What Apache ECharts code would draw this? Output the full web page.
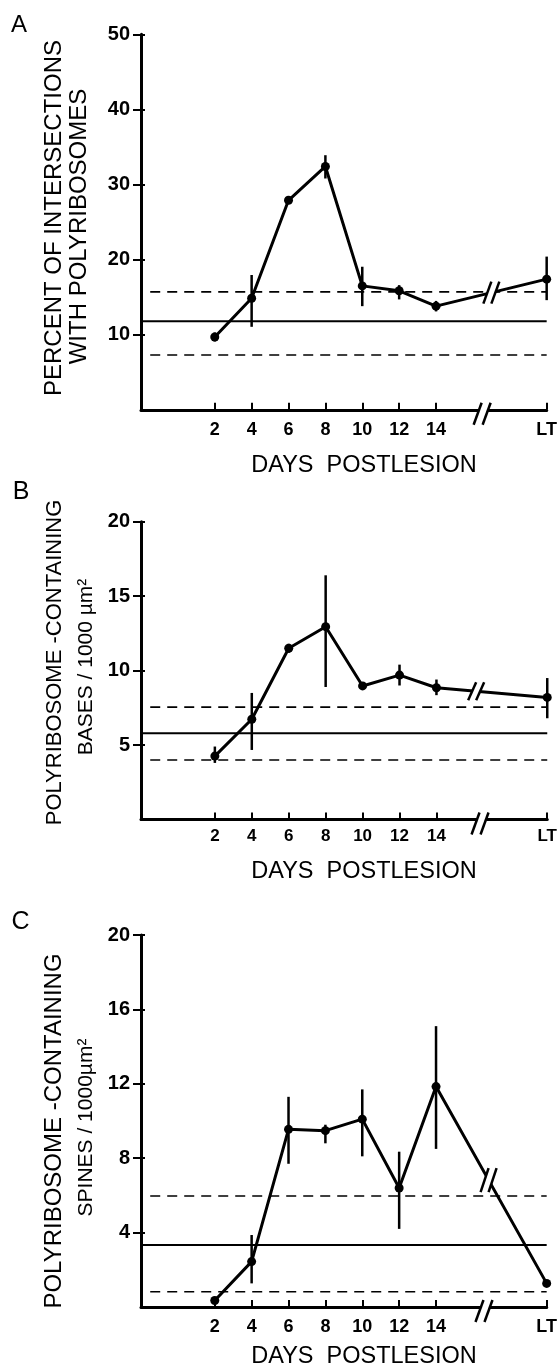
<!DOCTYPE html>
<html><head><meta charset="utf-8">
<script src="https://cdn.jsdelivr.net/npm/echarts@6/dist/echarts.min.js"></script>
<style>html,body{margin:0;padding:0;background:#fff}#c{width:560px;height:1372px}</style>
</head><body><div id="c"></div>
<script>
// ---- data ----
const days = [2, 4, 6, 8, 10, 12, 14, 20];          // 20 = long-term (LT) position
const dayLabels = ['2', '4', '6', '8', '10', '12', '14', 'LT'];

const aMean = [9.7, 14.85, 27.9, 32.4, 16.5, 15.85, 13.8, 17.4];
const aHigh = [10.3, 17.95, 28.4, 33.9, 19.05, 16.6, 14.5, 20.4];
const aLow  = [9.1, 11.05, 27.4, 30.8, 13.8, 14.7, 13.1, 14.6];
const aRef  = [11.8, 15.7, 7.3];          // control mean, upper, lower
const aYTicks = [10, 20, 30, 40, 50];

const bMean = [4.26, 6.73, 11.5, 12.95, 8.97, 9.7, 8.85, 8.2];
const bHigh = [4.9, 8.5, 11.8, 16.4, 9.15, 10.4, 9.4, 9.5];
const bLow  = [3.8, 4.67, 11.2, 8.9, 8.8, 9.0, 8.35, 6.8];
const bRef  = [5.8, 7.55, 4.0];
const bYTicks = [5, 10, 15, 20];

const cMean = [0.35, 2.44, 9.55, 9.48, 10.1, 6.4, 11.85, 1.27];
const cHigh = [0.5, 3.87, 11.3, 9.8, 11.7, 8.35, 15.1, 1.4];
const cLow  = [0.2, 1.27, 7.7, 8.8, 8.1, 4.2, 8.5, 1.1];
const cRef  = [3.33, 5.97, 0.82];
const cYTicks = [4, 8, 12, 16, 20];

const lineBreakDay = [17.0, 16.15, 16.85];
const axisBreakDay = [16.5, 16.36, 16.6];

// ---- layout / style ----
const FONT = "'Liberation Sans', Arial, Helvetica, sans-serif";
const X_MIN = -2, X_MAX = 20, DASH_START = -1.5;
const panels = [
  {mean: aMean, hi: aHigh, lo: aLow, ref: aRef, ticks: aYTicks, max: 50, top: 34.3, height: 375.5, xMargin: 11, xFont: 18, brH: 11},
  {mean: bMean, hi: bHigh, lo: bLow, ref: bRef, ticks: bYTicks, max: 20, top: 521.7, height: 297.8, xMargin: 8, xFont: 17, brH: 9},
  {mean: cMean, hi: cHigh, lo: cLow, ref: cRef, ticks: cYTicks, max: 20, top: 935, height: 372, xMargin: 11, xFont: 18, brH: 12}
];

function errRender(params, api) {
  const x = api.value(0);
  const lo = api.coord([x, api.value(1)]);
  const hi = api.coord([x, api.value(2)]);
  return {type: 'line', shape: {x1: lo[0], y1: lo[1], x2: hi[0], y2: hi[1]},
          style: {stroke: '#000', lineWidth: 2.5}};
}
function breakRender(h, dx, sep, yOff) {
  return function (params, api) {
    const p = api.coord([api.value(0), api.value(1)]);
    const x = p[0], y = p[1] + (yOff || 0);
    return {type: 'group', children: [
      {type: 'polygon', shape: {points: [[x - sep - dx, y + h], [x - sep + dx, y - h], [x + sep + dx, y - h], [x + sep - dx, y + h]]},
       style: {fill: '#fff'}},
      {type: 'line', shape: {x1: x - sep - dx, y1: y + h, x2: x - sep + dx, y2: y - h}, style: {stroke: '#000', lineWidth: 2.5}},
      {type: 'line', shape: {x1: x + sep - dx, y1: y + h, x2: x + sep + dx, y2: y - h}, style: {stroke: '#000', lineWidth: 2.5}}
    ]};
  };
}

const grids = [], xAxes = [], yAxes = [], series = [];
panels.forEach((p, i) => {
  grids.push({left: 141, right: 8, top: p.top, height: p.height});
  xAxes.push({
    type: 'value', gridIndex: i, min: X_MIN, max: X_MAX,
    axisLine: {onZero: false, lineStyle: {color: '#000', width: 3}},
    axisTick: {customValues: days, inside: true, length: 7, lineStyle: {color: '#000', width: 2}},
    axisLabel: {customValues: days, formatter: v => dayLabels[days.indexOf(v)], margin: p.xMargin,
                color: '#000', fontFamily: FONT, fontWeight: 'bold', fontSize: p.xFont},
    splitLine: {show: false}
  });
  yAxes.push({
    type: 'value', gridIndex: i, min: 0, max: p.max,
    axisLine: {show: true, onZero: false, lineStyle: {color: '#000', width: 3}},
    axisTick: {customValues: p.ticks, length: 8, lineStyle: {color: '#000', width: 2}},
    axisLabel: {customValues: p.ticks, margin: 11, color: '#000', fontFamily: FONT, fontWeight: 'bold', fontSize: 20},
    splitLine: {show: false}
  });
  yAxes.push({
    type: 'value', gridIndex: i, min: 0, max: p.max, position: 'left',
    axisLine: {show: false, onZero: false},
    axisTick: {show: true, customValues: p.ticks, inside: true, length: 4, lineStyle: {color: '#000', width: 2}},
    axisLabel: {show: false}, splitLine: {show: false}
  });
  const yi = i * 2;
  // reference lines
  series.push({type: 'line', xAxisIndex: i, yAxisIndex: yi, silent: true, showSymbol: false, z: 1,
    data: [[X_MIN, p.ref[0]], [X_MAX, p.ref[0]]], lineStyle: {color: '#000', width: 2}});
  [1, 2].forEach(k => series.push({type: 'line', xAxisIndex: i, yAxisIndex: yi, silent: true, showSymbol: false, z: 1,
    data: [[DASH_START, p.ref[k]], [X_MAX, p.ref[k]]], lineStyle: {color: '#000', width: 1.6, type: [10, 7]}}));
  // error bars
  series.push({type: 'custom', xAxisIndex: i, yAxisIndex: yi, z: 3, renderItem: errRender,
    data: days.map((d, j) => [d, p.lo[j], p.hi[j]])});
  // mean line
  series.push({type: 'line', xAxisIndex: i, yAxisIndex: yi, z: 4, symbol: 'circle', symbolSize: 9,
    data: days.map((d, j) => [d, p.mean[j]]),
    lineStyle: {color: '#000', width: 3}, itemStyle: {color: '#000'}});
  // break marks on data line (position interpolated between day 14 and LT)
  const n = days.length;
  const t = (lineBreakDay[i] - days[n - 2]) / (days[n - 1] - days[n - 2]);
  const yb = p.mean[n - 2] + t * (p.mean[n - 1] - p.mean[n - 2]);
  series.push({type: 'custom', xAxisIndex: i, yAxisIndex: yi, z: 6, renderItem: breakRender(p.brH, 4, 4, 0),
    data: [[lineBreakDay[i], yb]]});
  // break on x axis
  series.push({type: 'custom', xAxisIndex: i, yAxisIndex: yi, z: 6, renderItem: breakRender(11, 4, 4.5, 4),
    clip: false, data: [[axisBreakDay[i], 0]]});
});

const txt = (x, y, text, size, rot, weight) => ({
  type: 'text', x: x, y: y, rotation: rot || 0, silent: true,
  style: {text: text, fill: '#000', fontFamily: FONT, fontSize: size, fontWeight: weight || 'normal',
          align: 'center', verticalAlign: 'middle'}
});
const R = Math.PI / 2;
const graphic = [
  txt(19, 25, 'A', 24), txt(21, 492, 'B', 25), txt(20.5, 922, 'C', 25),
  txt(54, 218, 'PERCENT OF INTERSECTIONS', 24, R),
  txt(79, 226.5, 'WITH POLYRIBOSOMES', 24, R),
  txt(54.5, 662.5, 'POLYRIBOSOME -CONTAINING', 22, R),
  txt(86.5, 667, 'BASES / 1000 µm²', 21, R),
  txt(54, 1131, 'POLYRIBOSOME -CONTAINING', 24, R),
  txt(86, 1127.5, 'SPINES / 1000µm²', 21, R),
  txt(364, 466, 'DAYS  POSTLESION', 23.5),
  txt(364, 872, 'DAYS  POSTLESION', 23.5),
  txt(364, 1357, 'DAYS  POSTLESION', 23.5)
];

const chart = echarts.init(document.getElementById('c'), null, {renderer: 'canvas'});
chart.setOption({animation: false, backgroundColor: '#fff', grid: grids, xAxis: xAxes, yAxis: yAxes,
  series: series, graphic: graphic});
</script></body></html>
